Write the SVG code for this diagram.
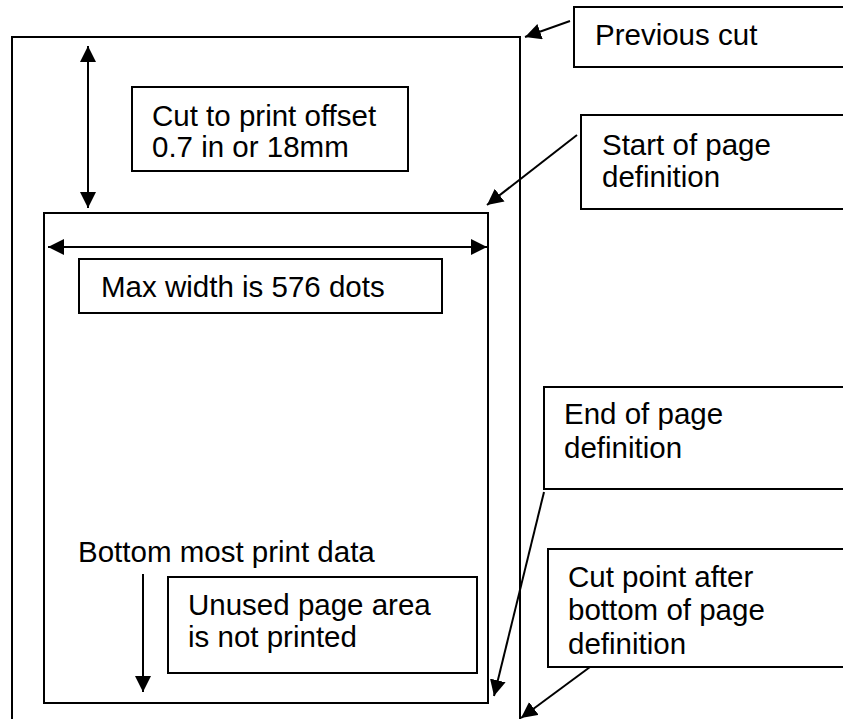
<svg xmlns="http://www.w3.org/2000/svg" width="843" height="719" viewBox="0 0 843 719">
<style>
  .box { fill: #fff; stroke: #000; stroke-width: 2; }
  .frame { fill: none; stroke: #000; stroke-width: 2; }
  .lbl { font-family: "Liberation Sans", Arial, sans-serif; font-size: 29.5px; fill: #000; }
  .conn line { stroke: #000; stroke-width: 2; }
</style>
<defs>
  <marker id="ah" viewBox="0 0 16 16" refX="16" refY="8" markerWidth="16" markerHeight="16" markerUnits="userSpaceOnUse" orient="auto-start-reverse">
    <path d="M0,0 L16,8 L0,16 z" fill="#000"/>
  </marker>
</defs>
<rect width="843" height="719" fill="#fff"/>
<g id="paper">
  <path class="frame" d="M12,719 V37 H520 V719"/>
</g>
<g id="page">
  <rect class="frame" x="44" y="213" width="444" height="490"/>
</g>
<g id="previous-cut">
  <rect class="box" x="574" y="7" width="280" height="60"/>
  <text class="lbl" x="595" y="45">Previous cut</text>
</g>
<g id="cut-offset">
  <rect class="box" x="132" y="87" width="276" height="84"/>
  <text class="lbl" x="152" y="126">Cut to print offset</text>
  <text class="lbl" x="152" y="157">0.7 in or 18mm</text>
</g>
<g id="start-page">
  <rect class="box" x="581" y="115" width="270" height="94"/>
  <text class="lbl" x="602" y="155">Start of page</text>
  <text class="lbl" x="602" y="187">definition</text>
</g>
<g id="max-width">
  <rect class="box" x="79" y="259" width="363" height="54"/>
  <text class="lbl" x="101" y="297">Max width is 576 dots</text>
</g>
<g id="end-page">
  <rect class="box" x="544" y="387" width="305" height="102"/>
  <text class="lbl" x="564" y="424">End of page</text>
  <text class="lbl" x="564" y="458">definition</text>
</g>
<g id="bottom-data">
  <text class="lbl" x="78" y="562">Bottom most print data</text>
</g>
<g id="unused">
  <rect class="box" x="168" y="577" width="309" height="96"/>
  <text class="lbl" x="188" y="615">Unused page area</text>
  <text class="lbl" x="188" y="647">is not printed</text>
</g>
<g id="cut-point">
  <rect class="box" x="548" y="549" width="300" height="118"/>
  <text class="lbl" x="568" y="587">Cut point after</text>
  <text class="lbl" x="568" y="620">bottom of page</text>
  <text class="lbl" x="568" y="654">definition</text>
</g>
<g id="connectors" class="conn">
  <line x1="88" y1="46" x2="88" y2="208" marker-start="url(#ah)" marker-end="url(#ah)"/>
  <line x1="48" y1="247" x2="487" y2="247" marker-start="url(#ah)" marker-end="url(#ah)"/>
  <line x1="570" y1="21" x2="525" y2="37" marker-end="url(#ah)"/>
  <line x1="577" y1="135" x2="487" y2="205" marker-end="url(#ah)"/>
  <line x1="544" y1="492" x2="494" y2="696" marker-end="url(#ah)"/>
  <line x1="590" y1="667" x2="521" y2="718" marker-end="url(#ah)"/>
  <line x1="143" y1="574" x2="143" y2="692" marker-end="url(#ah)"/>
</g>
</svg>
